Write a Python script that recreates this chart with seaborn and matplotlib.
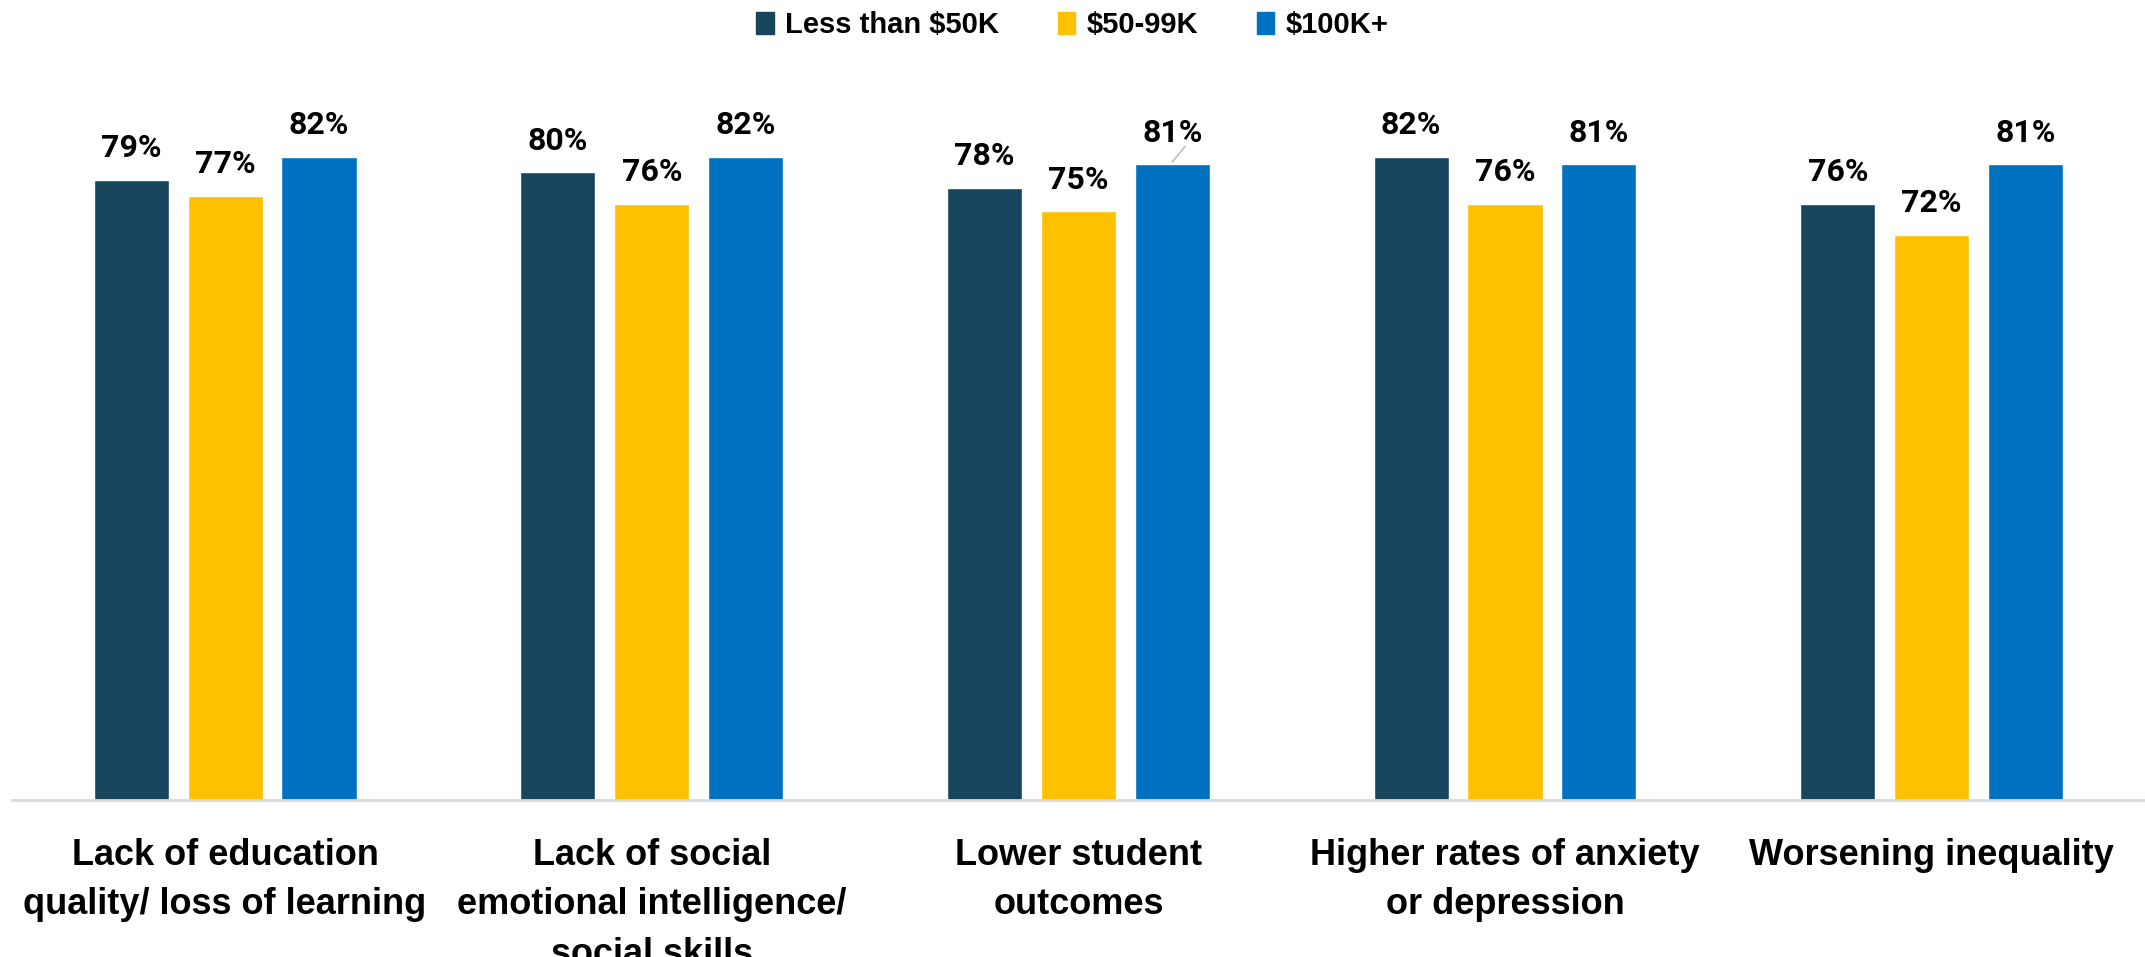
import pandas as pd
import seaborn as sns
import matplotlib as mpl
import matplotlib.pyplot as plt
from matplotlib import font_manager

# data
categories = [
    "Lack of education\nquality/ loss of learning",
    "Lack of social\nemotional intelligence/\nsocial skills",
    "Lower student\noutcomes",
    "Higher rates of anxiety\nor depression",
    "Worsening inequality",
]
groups = ["Less than $50K", "$50-99K", "$100K+"]
less_50k = [79, 80, 78, 82, 76]
k50_99 = [77, 76, 75, 76, 72]
k100_plus = [82, 82, 81, 81, 81]

colors = ["#17455E", "#FFC000", "#0070C0"]

sns.set_style("white")

names = {f.name for f in font_manager.fontManager.ttflist}
narrow = "Liberation Sans Narrow" if "Liberation Sans Narrow" in names else "Liberation Sans"
mpl.rcParams["font.family"] = [narrow, "DejaVu Sans"]
mpl.rcParams["text.color"] = "black"
mpl.rcParams["xtick.color"] = "black"

df = pd.DataFrame({"category": categories, groups[0]: less_50k,
                   groups[1]: k50_99, groups[2]: k100_plus})
df_long = pd.melt(df, "category", var_name="income", value_name="value")

fig = plt.figure(figsize=(21.45, 9.57), dpi=100)
ax = fig.add_axes([0.0055, 0.164, 0.9945, 0.82])

sns.barplot(
    data=df_long, x="category", y="value", hue="income",
    hue_order=groups, palette=colors, width=0.66, gap=0.2,
    saturation=1, ax=ax, legend=False,
)

ax.set_ylim(0, 100)
ax.set_xlim(-0.5, len(categories) - 0.5)
ax.set_yticks([])
ax.set_xlabel("")
ax.set_ylabel("")
for s in ["top", "right", "left"]:
    ax.spines[s].set_visible(False)
ax.spines["bottom"].set_color("#D9D9D9")
ax.spines["bottom"].set_linewidth(2)
ax.tick_params(axis="x", length=0, pad=27)
for t in ax.get_xticklabels():
    t.set_fontsize(26)
    t.set_fontweight("bold")
    t.set_linespacing(1.55)
    t.set_verticalalignment("top")
    t.set_color("black")

for cont in ax.containers:
    ax.bar_label(cont, labels=[f"{v:.0f}%" for v in cont.datavalues],
                 padding=12, fontsize=23, family=["Roboto", "DejaVu Sans"],
                 fontweight="bold", color="black")

# small leader line on the 81% label of "Lower student outcomes"
bar = ax.containers[2][2]
xc = bar.get_x() + bar.get_width() / 2
ax.plot([xc, xc + 0.03], [bar.get_height() + 0.3, bar.get_height() + 2.3],
        color="#BFBFBF", lw=1.2)

handles = [mpl.patches.Patch(color=c, label=g) for c, g in zip(colors, groups)]
fig.legend(handles=handles, loc="center", bbox_to_anchor=(0.5, 0.974), ncol=3,
           frameon=False, handlelength=0.6, handleheight=0.8,
           handletextpad=0.4, columnspacing=2.0,
           prop={"size": 21, "weight": "bold"})

fig.savefig("out.png", dpi=100)
